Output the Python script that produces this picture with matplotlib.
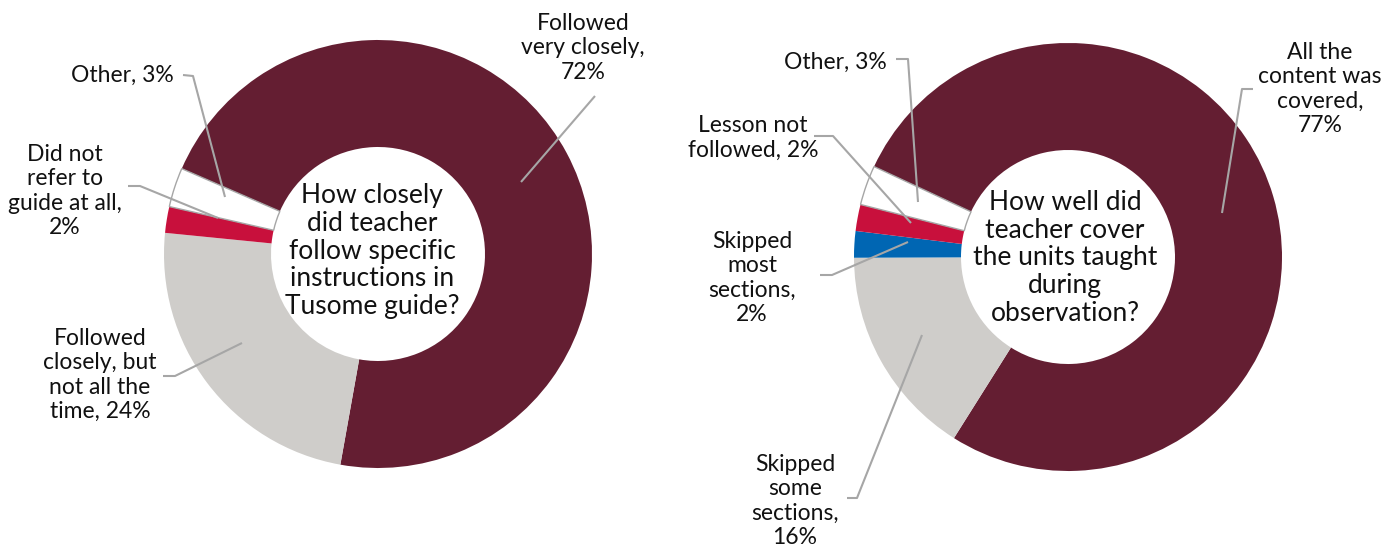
import matplotlib
matplotlib.use('Agg')
import matplotlib.pyplot as plt

plt.rcParams['font.family'] = ['Lato', 'DejaVu Sans']

# 左图数据
left_names = ['Followed\nvery closely,\n72%',
              'Followed\nclosely, but\nnot all the\ntime, 24%',
              'Did not\nrefer to\nguide at all,\n2%',
              'Other, 3%']
left_values = [72, 24, 2, 3]
left_title = 'How closely\ndid teacher\nfollow specific\ninstructions in\nTusome guide?'

# 右图数据
right_names = ['All the\ncontent was\ncovered,\n77%',
               'Skipped\nsome\nsections,\n16%',
               'Skipped\nmost\nsections,\n2%',
               'Lesson not\nfollowed, 2%',
               'Other, 3%']
right_values = [77, 16, 2, 2, 3]
right_title = 'How well did\nteacher cover\nthe units taught\nduring\nobservation?'

left_colors = ['#641E32', '#CFCDCA', '#C8103C', '#FFFFFF']
right_colors = ['#641E32', '#CFCDCA', '#0066B3', '#C8103C', '#FFFFFF']

W, H = 1396, 553
LINE = '#A6A6A6'


def py(y):
    # 像素坐标 -> 数据坐标 (y 向上)
    return H - y


fig = plt.figure(figsize=(W / 100, H / 100), dpi=100)
ax = fig.add_axes([0, 0, 1, 1])


def donut(values, colors, center, radius, start, title, title_pos,
          names, text_pos, leaders):
    wedges, _ = ax.pie(values, colors=colors, startangle=start,
                       counterclock=False, radius=radius,
                       center=(center[0], py(center[1])),
                       wedgeprops=dict(width=radius * 0.5, linewidth=0))
    for w, c in zip(wedges, colors):
        if c == '#FFFFFF':
            w.set_edgecolor(LINE)
            w.set_linewidth(1.0)
    ax.text(title_pos[0], py(title_pos[1]), title, ha='center', va='center',
            fontsize=19, color='#111111', linespacing=1.14)
    for name, (tx, ty), pts in zip(names, text_pos, leaders):
        ax.text(tx, py(ty), name, ha='center', va='center', fontsize=16.5,
                color='#111111', linespacing=1.2)
        ax.plot([p[0] for p in pts], [py(p[1]) for p in pts],
                color=LINE, lw=1.5, solid_capstyle='butt')


donut(left_values, left_colors, (378, 254), 214, 156.5, left_title, (372, 251),
      left_names,
      [(583, 48), (100, 375), (65, 191), (122, 75)],
      [[(595, 96), (521, 182)],
       [(163, 376), (175, 376), (242, 343)],
       [(128, 186), (140, 186), (218, 218)],
       [(183, 75), (193, 76), (225, 197)]])

donut(right_values, right_colors, (1068, 257), 214, 155, right_title, (1065, 258),
      right_names,
      [(1320, 89), (795, 501), (752, 278), (753, 138), (835, 62)],
      [[(1253, 89), (1242, 89), (1222, 213)],
       [(847, 498), (857, 498), (922, 335)],
       [(820, 275), (832, 275), (908, 242)],
       [(814, 136), (833, 136), (911, 223)],
       [(896, 59), (908, 59), (918, 202)]])

ax.set_xlim(0, W)
ax.set_ylim(0, H)
ax.set_aspect('auto')
ax.axis('off')

plt.savefig('out.png', dpi=100)
